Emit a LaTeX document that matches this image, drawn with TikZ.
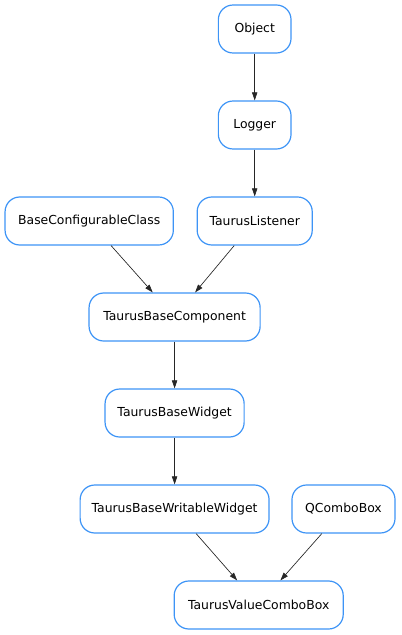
\documentclass[tikz,border=0pt]{standalone}
\usepackage{fontspec}
\setmainfont{DejaVu Sans}
\usetikzlibrary{positioning}
\usetikzlibrary{arrows.meta}

\definecolor{boxblue}{HTML}{3D94F6}

\tikzset{
  cls/.style={draw=boxblue, line width=0.9pt, rounded corners=11pt,
    minimum height=36pt, inner xsep=2pt, font=\fontsize{9.3}{11}\selectfont},
  inh/.style={-{Triangle[length=6pt,width=4pt]}, line width=0.5pt, black!85}
}

\begin{document}
\begin{tikzpicture}[x=0.75pt, y=-0.75pt]
  \useasboundingbox (0,0) rectangle (401,635);
  % classes
  \node[cls, minimum width=54.5pt] (object) at (254.7,29) {Object};
  \node[cls, minimum width=54.5pt] (logger) at (254.7,125) {Logger};
  \node[cls, minimum width=126.2pt] (baseconf) at (89.2,221) {BaseConfigurableClass};
  \node[cls, minimum width=86.3pt] (listener) at (254.7,221) {TaurusListener};
  \node[cls, minimum width=128.3pt] (basecomp) at (174.6,317) {TaurusBaseComponent};
  \node[cls, minimum width=104.3pt] (basewidget) at (174.6,413) {TaurusBaseWidget};
  \node[cls, minimum width=141.7pt] (writable) at (174.6,509) {TaurusBaseWritableWidget};
  \node[cls, minimum width=77.3pt] (qcombo) at (343.5,509) {QComboBox};
  \node[cls, minimum width=126.8pt] (valuecombo) at (258.7,605) {TaurusValueComboBox};

  % inheritance
  \draw[inh] (object) -- (logger);
  \draw[inh] (logger) -- (listener);
  \draw[inh] (baseconf) -- (basecomp);
  \draw[inh] (listener) -- (basecomp);
  \draw[inh] (basecomp) -- (basewidget);
  \draw[inh] (basewidget) -- (writable);
  \draw[inh] (writable) -- (valuecombo);
  \draw[inh] (qcombo) -- (valuecombo);
\end{tikzpicture}
\end{document}
